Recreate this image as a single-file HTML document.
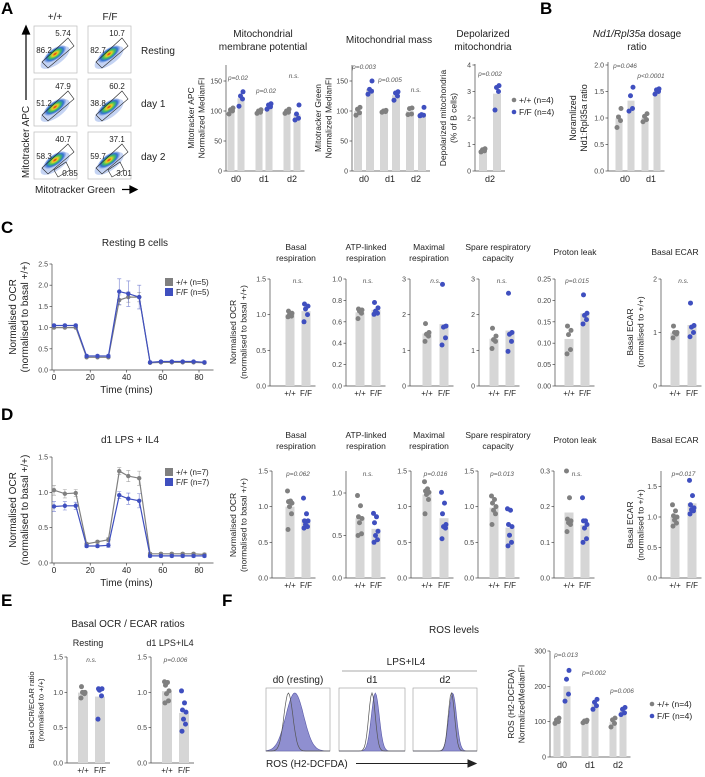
<!DOCTYPE html>
<html><head><meta charset="utf-8">
<style>
html,body{margin:0;padding:0;background:#fff;}
svg{display:block;font-family:"Liberation Sans",Arial,sans-serif;}
</style></head>
<body>
<svg id="fig" width="705" height="777" viewBox="0 0 705 777" xmlns="http://www.w3.org/2000/svg">
<defs>
<radialGradient id="flowg" cx="50%" cy="50%" r="50%">
<stop offset="0" stop-color="#e02010"/>
<stop offset="0.25" stop-color="#f0d020"/>
<stop offset="0.5" stop-color="#40c060"/>
<stop offset="0.75" stop-color="#3070d0"/>
<stop offset="1" stop-color="#7090e0" stop-opacity="0.3"/>
</radialGradient>
</defs>
</svg>
<script>
// ===== DATA =====
const A1_categories = ['d0','d1','d2'];
const A1_wt = [[95,100,102,105],[96,98,100,102],[96,98,100,103]];
const A1_ff = [[108,120,125,132],[103,107,110,112],[85,88,95,110]];
const A1_ticks = [0,50,100,150];
const A1_p = ['p=0.02','p=0.02','n.s.'];
const A2_categories = ['d0','d1','d2'];
const A2_wt = [[93,97,103,106],[98,99,100,101],[94,95,104,105]];
const A2_ff = [[128,133,136,150],[118,125,130,132],[92,93,94,106]];
const A2_ticks = [0,50,100,150];
const A2_p = ['p=0.003','p=0.005','n.s.'];
const A3_categories = ['d2'];
const A3_wt = [[0.72,0.76,0.8,0.84]];
const A3_ff = [[2.3,3.0,3.15,3.22]];
const A3_ticks = [0,1,2,3,4];
const A3_p = ['p=0.002'];
const B_categories = ['d0','d1'];
const B_wt = [[0.82,0.95,1.02,1.18],[0.93,0.97,1.03,1.08]];
const B_ff = [[1.13,1.18,1.42,1.58],[1.45,1.5,1.53,1.55]];
const B_ticks = [0,0.5,1.0,1.5,2.0];
const B_p = ['p=0.046','p<0.0001'];
const C_time = [0,6,12,18,24,30,36,41,47,53,59,65,71,77,83];
const C_wt = [1.0,1.0,1.0,0.3,0.3,0.3,1.65,1.72,1.72,0.17,0.18,0.18,0.18,0.18,0.17];
const C_ff = [1.05,1.05,1.05,0.33,0.33,0.33,1.85,1.8,1.72,0.18,0.2,0.2,0.2,0.2,0.18];
const C_err = [0.03,0.03,0.03,0.03,0.03,0.03,0.3,0.3,0.28,0.03,0.03,0.03,0.03,0.03,0.03];
const C_ticksY = [0,0.5,1.0,1.5,2.0,2.5];
const time_ticks = [0,20,40,60,80];
const C1_wt=[0.97,0.98,1.0,1.02,1.05], C1_ff=[0.9,1.0,1.08,1.12,1.15];
const C2_wt=[0.63,0.68,0.7,0.71,0.72], C2_ff=[0.67,0.68,0.7,0.73,0.78];
const C3_wt=[1.25,1.4,1.45,1.5,1.75], C3_ff=[1.15,1.35,1.65,1.68,2.85];
const C4_wt=[1.05,1.25,1.3,1.4,1.62], C4_ff=[0.97,1.25,1.45,1.5,2.6];
const C5_wt=[0.075,0.085,0.12,0.13,0.14], C5_ff=[0.145,0.155,0.165,0.17,0.213];
const C6_wt=[0.9,0.97,1.0,1.0,1.12], C6_ff=[0.92,1.0,1.1,1.13,1.55];
const D_wt = [1.03,0.98,0.99,0.27,0.3,0.33,1.3,1.23,1.2,0.13,0.13,0.13,0.13,0.13,0.12];
const D_ff = [0.8,0.81,0.81,0.24,0.24,0.25,0.96,0.91,0.88,0.1,0.1,0.1,0.1,0.1,0.1];
const D_err = [0.07,0.06,0.05,0.02,0.02,0.03,0.05,0.08,0.1,0.02,0.02,0.02,0.02,0.02,0.02];
const D_ticksY = [0,0.5,1.0,1.5];
const D1_wt=[0.68,0.9,1.0,1.05,1.07,1.08,1.22], D1_ff=[0.7,0.72,0.75,0.8,0.8,0.9,1.12];
const D2_wt=[0.5,0.52,0.65,0.7,0.72,0.85,0.97], D2_ff=[0.42,0.45,0.5,0.55,0.65,0.72,0.76];
const D3_wt=[0.9,1.1,1.17,1.2,1.22,1.25,1.35], D3_ff=[0.55,0.7,0.72,0.75,0.9,1.05,1.2];
const D4_wt=[0.75,0.9,0.95,1.0,1.05,1.1,1.15], D4_ff=[0.45,0.5,0.6,0.72,0.75,0.95,0.97];
const D5_wt=[0.13,0.15,0.155,0.16,0.165,0.225,0.3], D5_ff=[0.1,0.11,0.14,0.15,0.16,0.16,0.225];
const D6_wt=[0.85,0.9,0.95,1.0,1.02,1.1,1.2], D6_ff=[1.05,1.1,1.12,1.15,1.2,1.35,1.6];
const E1_wt=[0.92,0.98,1.0,1.0,1.08], E1_ff=[0.62,0.95,1.03,1.05,1.05];
const E2_wt=[0.85,0.88,0.98,1.02,1.1,1.14,1.15], E2_ff=[0.45,0.55,0.62,0.72,0.75,0.85,1.02];
const F_categories = ['d0','d1','d2'];
const F_wt = [[95,100,105,110],[97,100,102,104],[85,95,105,110]];
const F_ff = [[158,178,220,245],[135,145,155,163],[120,125,135,140]];
const F_ticks = [0,100,200,300];
const F_p = ['p=0.013','p=0.002','p=0.006'];
const hist_labels = ['d0 (resting)','d1','d2'];
const hist_wt_mode = [0.35,0.5,0.6];
const hist_ff_mode = [0.45,0.55,0.62];
const hist_wt_sd = [0.07,0.05,0.05];
const hist_ff_sd = [0.14,0.06,0.06];

// ===== HELPERS =====
const NS='http://www.w3.org/2000/svg';
const svg=document.getElementById('fig');
const GRAY='#808080', BLUE='#3f4fbf', BAR='#d6d6d6';
function el(tag,attrs,parent){const e=document.createElementNS(NS,tag);for(const k in attrs)e.setAttribute(k,attrs[k]);(parent||svg).appendChild(e);return e;}
function txt(x,y,s,size,anchor,parent,extra){const t=el('text',Object.assign({x:x,y:y,'font-size':size,'text-anchor':anchor||'middle',fill:'#222'},extra||{}),parent);t.textContent=s;return t;}
function mean(a){return a.reduce((s,v)=>s+v,0)/a.length;}
const jit=[-2,1.5,-0.5,2,-1.5,0.5,-2.5];

function yAxis(g,ax,y0,yTop,ymax,ticks,dec,axisTop){
  const ys=v=>y0-v/ymax*(y0-yTop);
  const l=el('line',{x1:ax,y1:y0,x2:ax,y2:axisTop,stroke:'#444','stroke-width':0.7},g);
  
  
  ticks.forEach(v=>{
    const tk=el('line',{x1:ax-2.5,y1:ys(v),x2:ax,y2:ys(v),stroke:'#444','stroke-width':0.7},g);
    
    
    const t=txt(ax-4,ys(v)+2.5,v.toFixed(dec),7,'end',g,{fill:'#444'});
    
    
  });
  return ys;
}
function ylabel(g,x,cy,lines,size){
  lines.forEach((s,i)=>{
    const t=txt(x+i*(size+2),cy,s,size,'middle',g,{transform:'rotate(-90 '+(x+i*(size+2))+' '+cy+')'});
    
    
  });
}
function drawBar(g,ys,y0,xc,bw,vals,color,k){
  const m=mean(vals);
  const r=el('rect',{x:xc-bw/2,y:ys(m),width:bw,height:y0-ys(m),fill:BAR},g);
  
  
  vals.forEach((v,j)=>{
    const c=el('circle',{cx:xc+jit[j%jit.length],cy:ys(v),r:2.5,fill:color},g);
    
    
  });
}
function groupChart(name,c,cats,wt,ff,ticks,dec,pl){
  const g=el('g',{});
  
  
  const ys=yAxis(g,c.ax,c.y0,c.yTop,c.ymax,ticks,dec,c.axisTop);
  const xe=c.gx0+(cats.length-1)*c.gstep+c.boff+c.bw/2+4;
  const xl=el('line',{x1:c.ax,y1:c.y0,x2:xe,y2:c.y0,stroke:'#444','stroke-width':0.7},g);
  
  
  cats.forEach((cat,i)=>{
    const xc=c.gx0+i*c.gstep;
    drawBar(g,ys,c.y0,xc-c.boff,c.bw,wt[i],GRAY,'wt-'+cat);
    drawBar(g,ys,c.y0,xc+c.boff,c.bw,ff[i],BLUE,'ff-'+cat);
    const t=txt(xc,c.y0+11,cat,9,'middle',g);
    
    
    if(pl&&pl[i]){
      const mx=Math.max(...wt[i],...ff[i]);
      const p=txt(xc+(c.pdx||0),Math.min(ys(mx)-6,c.y0-20),pl[i],6.5,'middle',g,{'font-style':'italic',fill:'#555'});
      if(c.pfix) p.setAttribute('y',c.pfix[i]);
      
      
    }
  });
  return g;
}
function pairChart(name,c,wt,ff,ticks,dec,pl){
  const g=el('g',{});
  
  
  const ys=yAxis(g,c.ax,c.y0,c.yTop,c.ymax,ticks,dec,c.axisTop);
  const xl=el('line',{x1:c.ax,y1:c.y0,x2:c.x2+c.bw/2+5,y2:c.y0,stroke:'#444','stroke-width':0.7},g);
  
  
  drawBar(g,ys,c.y0,c.x1,c.bw,wt,GRAY,'wt');
  drawBar(g,ys,c.y0,c.x2,c.bw,ff,BLUE,'ff');
  const t1=txt(c.x1,c.y0+10,'+/+',8,'middle',g);
  
  
  const t2=txt(c.x2,c.y0+10,'F/F',8,'middle',g);
  
  
  if(pl){
    const p=txt((c.x1+c.x2)/2,c.py,pl,6.5,'middle',g,{'font-style':'italic',fill:'#555'});
    
    
  }
  return g;
}
function lineChart(name,c,time,wt,ff,err,ticks){
  const g=el('g',{});
  
  
  const ys=yAxis(g,c.ax,c.y0,c.yTop,c.ymax,ticks,1,c.yTop);
  const xs=t=>c.x0+t/80*(c.x80-c.x0);
  const xl=el('line',{x1:c.ax,y1:c.y0,x2:xs(88),y2:c.y0,stroke:'#444','stroke-width':0.7},g);
  
  
  time_ticks.forEach(t=>{
    const tk=el('line',{x1:xs(t),y1:c.y0,x2:xs(t),y2:c.y0+2.5,stroke:'#444','stroke-width':0.7},g);
    
    
    const l=txt(xs(t),c.y0+10,String(t),8,'middle',g);
    
    
  });
  [[wt,GRAY,'wt',c.errWt],[ff,BLUE,'ff',c.errFf]].forEach(([vals,col,k,ef])=>{
    const d=vals.map((v,i)=>(i?'L':'M')+xs(time[i]).toFixed(1)+' '+ys(v).toFixed(1)).join(' ');
    const p=el('path',{d:d,fill:'none',stroke:col,'stroke-width':1.2},g);
    
    
    vals.forEach((v,i)=>{
      const e=err[i]*ef;
      const eb=el('path',{d:'M'+xs(time[i])+' '+ys(v+e)+' V'+ys(v-e)+' M'+(xs(time[i])-2)+' '+ys(v+e)+' h4 M'+(xs(time[i])-2)+' '+ys(v-e)+' h4',stroke:col,'stroke-width':0.6,fill:'none',opacity:0.7},g);
      
      
      const pt=el('circle',{cx:xs(time[i]),cy:ys(v),r:2.2,fill:col},g);
      
      
    });
  });
  const tt=txt((c.x0+c.x80)/2,c.y0+23,'Time (mins)',10,'middle',g);
  
  
  [['+/+ (n='+c.n+')',GRAY],['F/F (n='+c.n+')',BLUE]].forEach(([s,col],i)=>{
    const r=el('rect',{x:c.lx,y:c.ly+i*10-7,width:8,height:8,fill:col},g);
    
    
    const t=txt(c.lx+11,c.ly+i*10,s,8,'start',g);
    
    
  });
  ylabel(g,c.ax-36,(c.y0+c.yTop)/2,['Normalised OCR','(normalised to basal +/+)'],10);
  return g;
}
function label(x,y,s,size,extra,name){
  const t=txt(x,y,s,size,'middle',svg,extra);
  
  
  return t;
}
function panelLetter(x,y,s){
  const t=txt(x,y,s,17,'start',svg,{'font-weight':'bold',fill:'#000'});
  
  
}
function legendDots(x,y,n){
  [['+/+ (n='+n+')',GRAY],['F/F (n='+n+')',BLUE]].forEach(([s,col],i)=>{
    const c=el('circle',{cx:x,cy:y+i*12-3,r:2.3,fill:col});
    
    
    const t=txt(x+5,y+i*12,s,8.5,'start');
    
    
  });
}

// ===== PANEL A: flow plots =====
panelLetter(1,14,'A');
label(55,20,'+/+',10,{},'column-label-wt');
label(110,20,'F/F',10,{},'column-label-ff');
const flowNums=[['5.74','86.2',null],['10.7','82.7',null],['47.9','51.2',null],['60.2','38.8',null],['40.7','58.3','0.85'],['37.1','59.7','3.01']];
const rowsY=[26,79,132];
const colsX=[34,88];
['Resting','day 1','day 2'].forEach((s,r)=>{
  const t=txt(141,rowsY[r]+28,s,10,'start');
  
  
  colsX.forEach((cx,ci)=>{
    const g=el('g',{});
    
    
    const y=rowsY[r];
    const b=el('rect',{x:cx,y:y,width:43,height:47,fill:'#fff',stroke:'#bbb','stroke-width':0.7},g);
    
    
    const ang=-35, ecx=cx+21, ecy=y+28;
    const sc=el('ellipse',{cx:ecx-2,cy:ecy+3,rx:17,ry:7,fill:'#8aa8e8',opacity:0.5,transform:'rotate('+ang+' '+ecx+' '+ecy+')'},g);
    
    
    const bl=el('ellipse',{cx:ecx,cy:ecy,rx:13,ry:5.5,fill:'url(#flowg)',transform:'rotate('+ang+' '+ecx+' '+ecy+')'},g);
    
    
    const gp=el('polygon',{points:[[cx+8,y+36],[cx+14,y+42],[cx+40,y+20],[cx+34,y+12]].map(p=>p.join(',')).join(' '),fill:'none',stroke:'#222','stroke-width':0.6},g);
    
    
    const n=flowNums[r*2+ci];
    const t1=txt(cx+29,y+10,n[0],8,'middle',g);  
    const t2=txt(cx+10,y+27,n[1],8,'middle',g);  
    if(n[2]){
      const gp2=el('polygon',{points:[[cx+20,y+38],[cx+24,y+45],[cx+36,y+38],[cx+32,y+30]].map(p=>p.join(',')).join(' '),fill:'none',stroke:'#222','stroke-width':0.6},g);
      
      
      const t3=txt(cx+36,y+44,n[2],8,'middle',g);  
    }
  });
});
(function(){
  const a=el('path',{d:'M26 100 V31 M22.5 34 L26 26 L29.5 34 Z',stroke:'#000','stroke-width':1.2,fill:'#000'});
  
  
  const t2=txt(29,142,'Mitotracker APC',10,'middle',svg,{transform:'rotate(-90 29 142)'});
  
  
  const t3=txt(35,193,'Mitotracker Green',10,'start');
  
  
  const a2=el('path',{d:'M122 189.5 H133 M130 186 L137 189.5 L130 193 Z',stroke:'#000','stroke-width':1.2,fill:'#000'});
  
  
})();

// A bar charts
label(263,37,'Mitochondrial',10,{},'chart-title');
label(263,50,'membrane potential',10,{},'chart-title');
const gA1=groupChart('membrane-potential-chart',{ax:226,y0:171,yTop:81,ymax:150,axisTop:65,gx0:236,gstep:28,boff:5,bw:7,pfix:[80,93,78],pdx:2},A1_categories,A1_wt,A1_ff,A1_ticks,0,A1_p);
ylabel(gA1,194,118,['Mitotracker APC','Normalized MedianFI'],8.5);
label(389,43,'Mitochondrial mass',10,{},'chart-title');
const gA2=groupChart('mito-mass-chart',{ax:352,y0:171,yTop:81,ymax:150,axisTop:65,gx0:364,gstep:26,boff:6,bw:8,pfix:[69,82,92]},A2_categories,A2_wt,A2_ff,A2_ticks,0,A2_p);
ylabel(gA2,321,118,['Mitotracker Green','Normalized MedianFI'],8.5);
label(483,37,'Depolarized',10,{},'chart-title');
label(483,50,'mitochondria',10,{},'chart-title');
const gA3=groupChart('depolarized-chart',{ax:475,y0:171,yTop:65,ymax:4,axisTop:64,gx0:490,gstep:26,boff:7,bw:8,pfix:[76]},A3_categories,A3_wt,A3_ff,A3_ticks,0,A3_p);
ylabel(gA3,446,118,['Depolarized mitochondria','(% of B cells)'],8.5);
legendDots(514,103,4);

// B
panelLetter(540,14,'B');
label(637,37,'Nd1/Rpl35a dosage',10,{},'chart-title').innerHTML='<tspan font-style="italic">Nd1/Rpl35a</tspan> dosage';
label(637,50,'ratio',10,{},'chart-title');
const gB=groupChart('nd1-ratio-chart',{ax:608,y0:171,yTop:65,ymax:2,axisTop:62,gx0:625,gstep:26,boff:6,bw:7,pfix:[68,78],pdx:0},B_categories,B_wt,B_ff,B_ticks,1,B_p);
ylabel(gB,576,118,['Noramlized','Nd1:Rpl35a ratio'],9);

// C
panelLetter(1,233,'C');
label(135,246,'Resting B cells',10,{},'chart-title');
lineChart('ocr-resting-chart',{ax:52,x0:54,x80:199,y0:370,yTop:264,ymax:2.5,n:5,lx:165,ly:285,errWt:0.4,errFf:1},C_time,C_wt,C_ff,C_err,C_ticksY);
const titles=[['Basal','respiration',296],['ATP-linked','respiration',366],['Maximal','respiration',429],['Spare respiratory','capacity',498],['Proton leak',null,575],['Basal ECAR',null,675]];
function barTitles(y){
  titles.forEach(([a,b,x])=>{
    if(b){label(x,y,a,8.5,{},'chart-title');label(x,y+11,b,8.5,{},'chart-title');}
    else label(x,y+5,a,8.5,{},'chart-title');
  });
}
barTitles(250);
const cy0=386, cyT=279;
const gC1=pairChart('c-basal',{ax:270,y0:cy0,yTop:cyT,ymax:1.5,axisTop:cyT,x1:290,x2:306,bw:9,py:283},C1_wt,C1_ff,[0,0.5,1.0,1.5],1,'n.s.');
ylabel(gC1,236,332,['Normalised OCR','(normalised to basal +/+)'],8.5);
pairChart('c-atp',{ax:346,y0:cy0,yTop:cyT,ymax:1.0,axisTop:cyT,x1:360,x2:376,bw:9,py:283},C2_wt,C2_ff,[0,0.2,0.4,0.6,0.8,1.0],1,'n.s.');
pairChart('c-maximal',{ax:410,y0:cy0,yTop:cyT,ymax:3,axisTop:cyT,x1:427,x2:444,bw:9,py:283},C3_wt,C3_ff,[0,1,2,3],0,'n.s.');
pairChart('c-spare',{ax:479,y0:cy0,yTop:cyT,ymax:3,axisTop:cyT,x1:494,x2:510,bw:9,py:283},C4_wt,C4_ff,[0,1,2,3],0,'n.s.');
pairChart('c-proton',{ax:555,y0:cy0,yTop:cyT,ymax:0.25,axisTop:cyT,x1:569,x2:585,bw:9,py:283},C5_wt,C5_ff,[0,0.05,0.1,0.15,0.2,0.25],2,'p=0.015');
const gC6=pairChart('c-ecar',{ax:661,y0:cy0,yTop:cyT,ymax:2,axisTop:cyT,x1:675,x2:692,bw:9,py:283},C6_wt,C6_ff,[0,1,2],0,'n.s.');
ylabel(gC6,633,332,['Basal ECAR','(normalised to +/+)'],8.5);

// D
panelLetter(1,420,'D');
label(130,443,'d1 LPS + IL4',10,{},'chart-title');
lineChart('ocr-lps-chart',{ax:52,x0:54,x80:199,y0:563,yTop:457,ymax:1.5,n:7,lx:165,ly:475,errWt:1,errFf:1},C_time,D_wt,D_ff,D_err,D_ticksY);
barTitles(438);
const dy0=578, dyT=471;
const gD1=pairChart('d-basal',{ax:272,y0:dy0,yTop:dyT,ymax:1.5,axisTop:dyT,x1:290,x2:306,bw:9,py:476},D1_wt,D1_ff,[0,0.5,1.0,1.5],1,'p=0.062');
ylabel(gD1,236,525,['Normalised OCR','(normalised to basal +/+)'],8.5);
pairChart('d-atp',{ax:346,y0:dy0,yTop:dy0-85,ymax:1.0,axisTop:dyT,x1:360,x2:376,bw:9,py:476},D2_wt,D2_ff,[0,0.5,1.0],1,'n.s.');
pairChart('d-maximal',{ax:411,y0:dy0,yTop:dyT,ymax:1.5,axisTop:dyT,x1:427,x2:444,bw:9,py:476},D3_wt,D3_ff,[0,0.5,1.0,1.5],1,'p=0.016');
pairChart('d-spare',{ax:478,y0:dy0,yTop:dyT,ymax:1.5,axisTop:dyT,x1:494,x2:510,bw:9,py:476},D4_wt,D4_ff,[0,0.5,1.0,1.5],1,'p=0.013');
pairChart('d-proton',{ax:554,y0:dy0,yTop:dyT,ymax:0.3,axisTop:dyT,x1:569,x2:585,bw:9,py:476},D5_wt,D5_ff,[0,0.1,0.2,0.3],1,'n.s.');
const gD6=pairChart('d-ecar',{ax:661,y0:dy0,yTop:dy0-91.5,ymax:1.5,axisTop:dyT,x1:675,x2:692,bw:9,py:476},D6_wt,D6_ff,[0,0.5,1.0,1.5],1,'p=0.017');
ylabel(gD6,633,525,['Basal ECAR','(normalised to +/+)'],8.5);

// E
panelLetter(1,606,'E');
label(128,627,'Basal OCR / ECAR ratios',10,{},'chart-title');
label(88,646,'Resting',9,{},'chart-subtitle');
label(170,646,'d1 LPS+IL4',9,{},'chart-subtitle');
const gE1=pairChart('e-resting',{ax:67,y0:763,yTop:657,ymax:1.5,axisTop:657,x1:83,x2:100,bw:10,py:662},E1_wt,E1_ff,[0,0.5,1.0,1.5],1,'n.s.');
ylabel(gE1,34,710,['Basal OCR/ECAR ratio','(normalised to +/+)'],7.5);
pairChart('e-lps',{ax:151,y0:763,yTop:657,ymax:1.5,axisTop:657,x1:167,x2:184,bw:10,py:662},E2_wt,E2_ff,[0,0.5,1.0,1.5],1,'p=0.006');

// F
panelLetter(222,606,'F');
label(454,633,'ROS levels',10,{},'chart-title');
label(406,665,'LPS+IL4',10,{},'group-label');
(function(){
  const l=el('line',{x1:342,y1:671,x2:477,y2:671,stroke:'#aaa','stroke-width':1});
  
  
})();
const boxX=[266,339,413], boxW=[64,66,64];
hist_labels.forEach((s,i)=>{
  const g=el('g',{});
  
  
  label(boxX[i]+boxW[i]/2,683,s,10,{},'histogram-title');
  const x0=boxX[i], y0=751, y1=688, w=boxW[i], h=y0-y1;
  const fr=el('rect',{x:x0,y:y1,width:w,height:h,fill:'#fff',stroke:'#999','stroke-width':0.6},g);
  
  
  function curve(mode,sd){
    let d='M'+x0+' '+y0;
    for(let k=0;k<=60;k++){const u=k/60;const v=Math.exp(-0.5*Math.pow((u-mode)/sd,2));d+=' L'+(x0+u*w).toFixed(1)+' '+(y0-v*h*0.92).toFixed(1);}
    return d+' L'+(x0+w)+' '+y0;
  }
  const f=el('path',{d:curve(hist_ff_mode[i],hist_ff_sd[i])+' Z',fill:'#8f8fd0',stroke:'#5a5aa8','stroke-width':0.6},g);
  
  
  const o=el('path',{d:curve(hist_wt_mode[i],hist_wt_sd[i]),fill:'none',stroke:'#555','stroke-width':0.7},g);
  
  
});
(function(){
  const t=txt(266,767,'ROS (H2-DCFDA)',10,'start');
  
  
  const a=el('path',{d:'M356 763.5 H470 M468 760 L476 763.5 L468 767 Z',stroke:'#222','stroke-width':1,fill:'#222'});
  
  
})();
const gF=groupChart('ros-chart',{ax:550,y0:757,yTop:651,ymax:300,axisTop:651,gx0:562,gstep:28,boff:5,bw:7,pfix:[657,675,693],pdx:4},F_categories,F_wt,F_ff,F_ticks,0,F_p);
ylabel(gF,514,704,['ROS (H2-DCFDA)','NormalizedMedianFI'],8.5);
legendDots(652,707,4);
</script>
</body></html>
